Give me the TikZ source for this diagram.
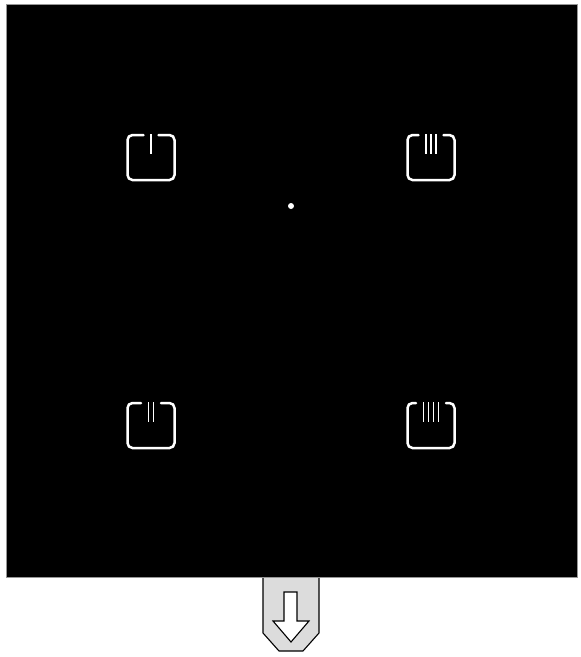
\documentclass[tikz,border=0pt]{standalone}
\usepackage{tikz}
\usetikzlibrary{positioning}
\definecolor{panelblack}{RGB}{0, 0, 0}
\definecolor{paneledge}{RGB}{150, 150, 150}
\definecolor{tabgray}{RGB}{220, 220, 220}
\definecolor{icongray}{RGB}{255, 255, 255}

\begin{document}
\begin{tikzpicture}[
    x=1pt, y=-1pt,
    panel/.style={fill=panelblack, draw=paneledge, line width=0.8pt},
    iconframe/.style={draw=icongray, line width=2.5pt, rounded corners=5pt, line cap=round},
    iconbar/.style={draw=icongray, line width=1.9pt},
    pulltab/.style={fill=tabgray, draw=black, line width=1.1pt, line join=round},
    pullarrow/.style={fill=white, draw=black, line width=1.1pt, line join=miter},
]
\useasboundingbox (0,0) rectangle (581,657);

% Pull tab (behind panel)
\draw[pulltab] (263,570) -- (263,633) -- (279,651) -- (303,651) -- (319,633) -- (319,570) -- cycle;
\draw[pullarrow] (284,592) -- (297,592) -- (297,621) -- (309,621) -- (291,642) -- (273,621) -- (284,621) -- cycle;

% Black panel
\draw[panel] (6,4) rectangle (577,577);

% Centre dot
\node[circle, fill=white, inner sep=0pt, minimum size=6pt] (centre) at (291,206) {};

% Channel icons
\foreach \cx/\cy/\n in {151/157/1, 431/157/3, 151/425/2, 431/425/4} {
    \pgfmathsetmacro{\gap}{(\n-1)*2.5+7.5}
    \draw[iconframe] (\cx-\gap,\cy-22) -- (\cx-23.5,\cy-22) -- (\cx-23.5,\cy+23)
        -- (\cx+23.5,\cy+23) -- (\cx+23.5,\cy-22) -- (\cx+\gap,\cy-22);
    \foreach \i in {1,...,\n} {
        \pgfmathsetmacro{\bx}{\cx+(\i-(\n+1)/2)*5}
        \draw[iconbar] (\bx,\cy-23) -- (\bx,\cy-3);
    }
}

\end{tikzpicture}
\end{document}
